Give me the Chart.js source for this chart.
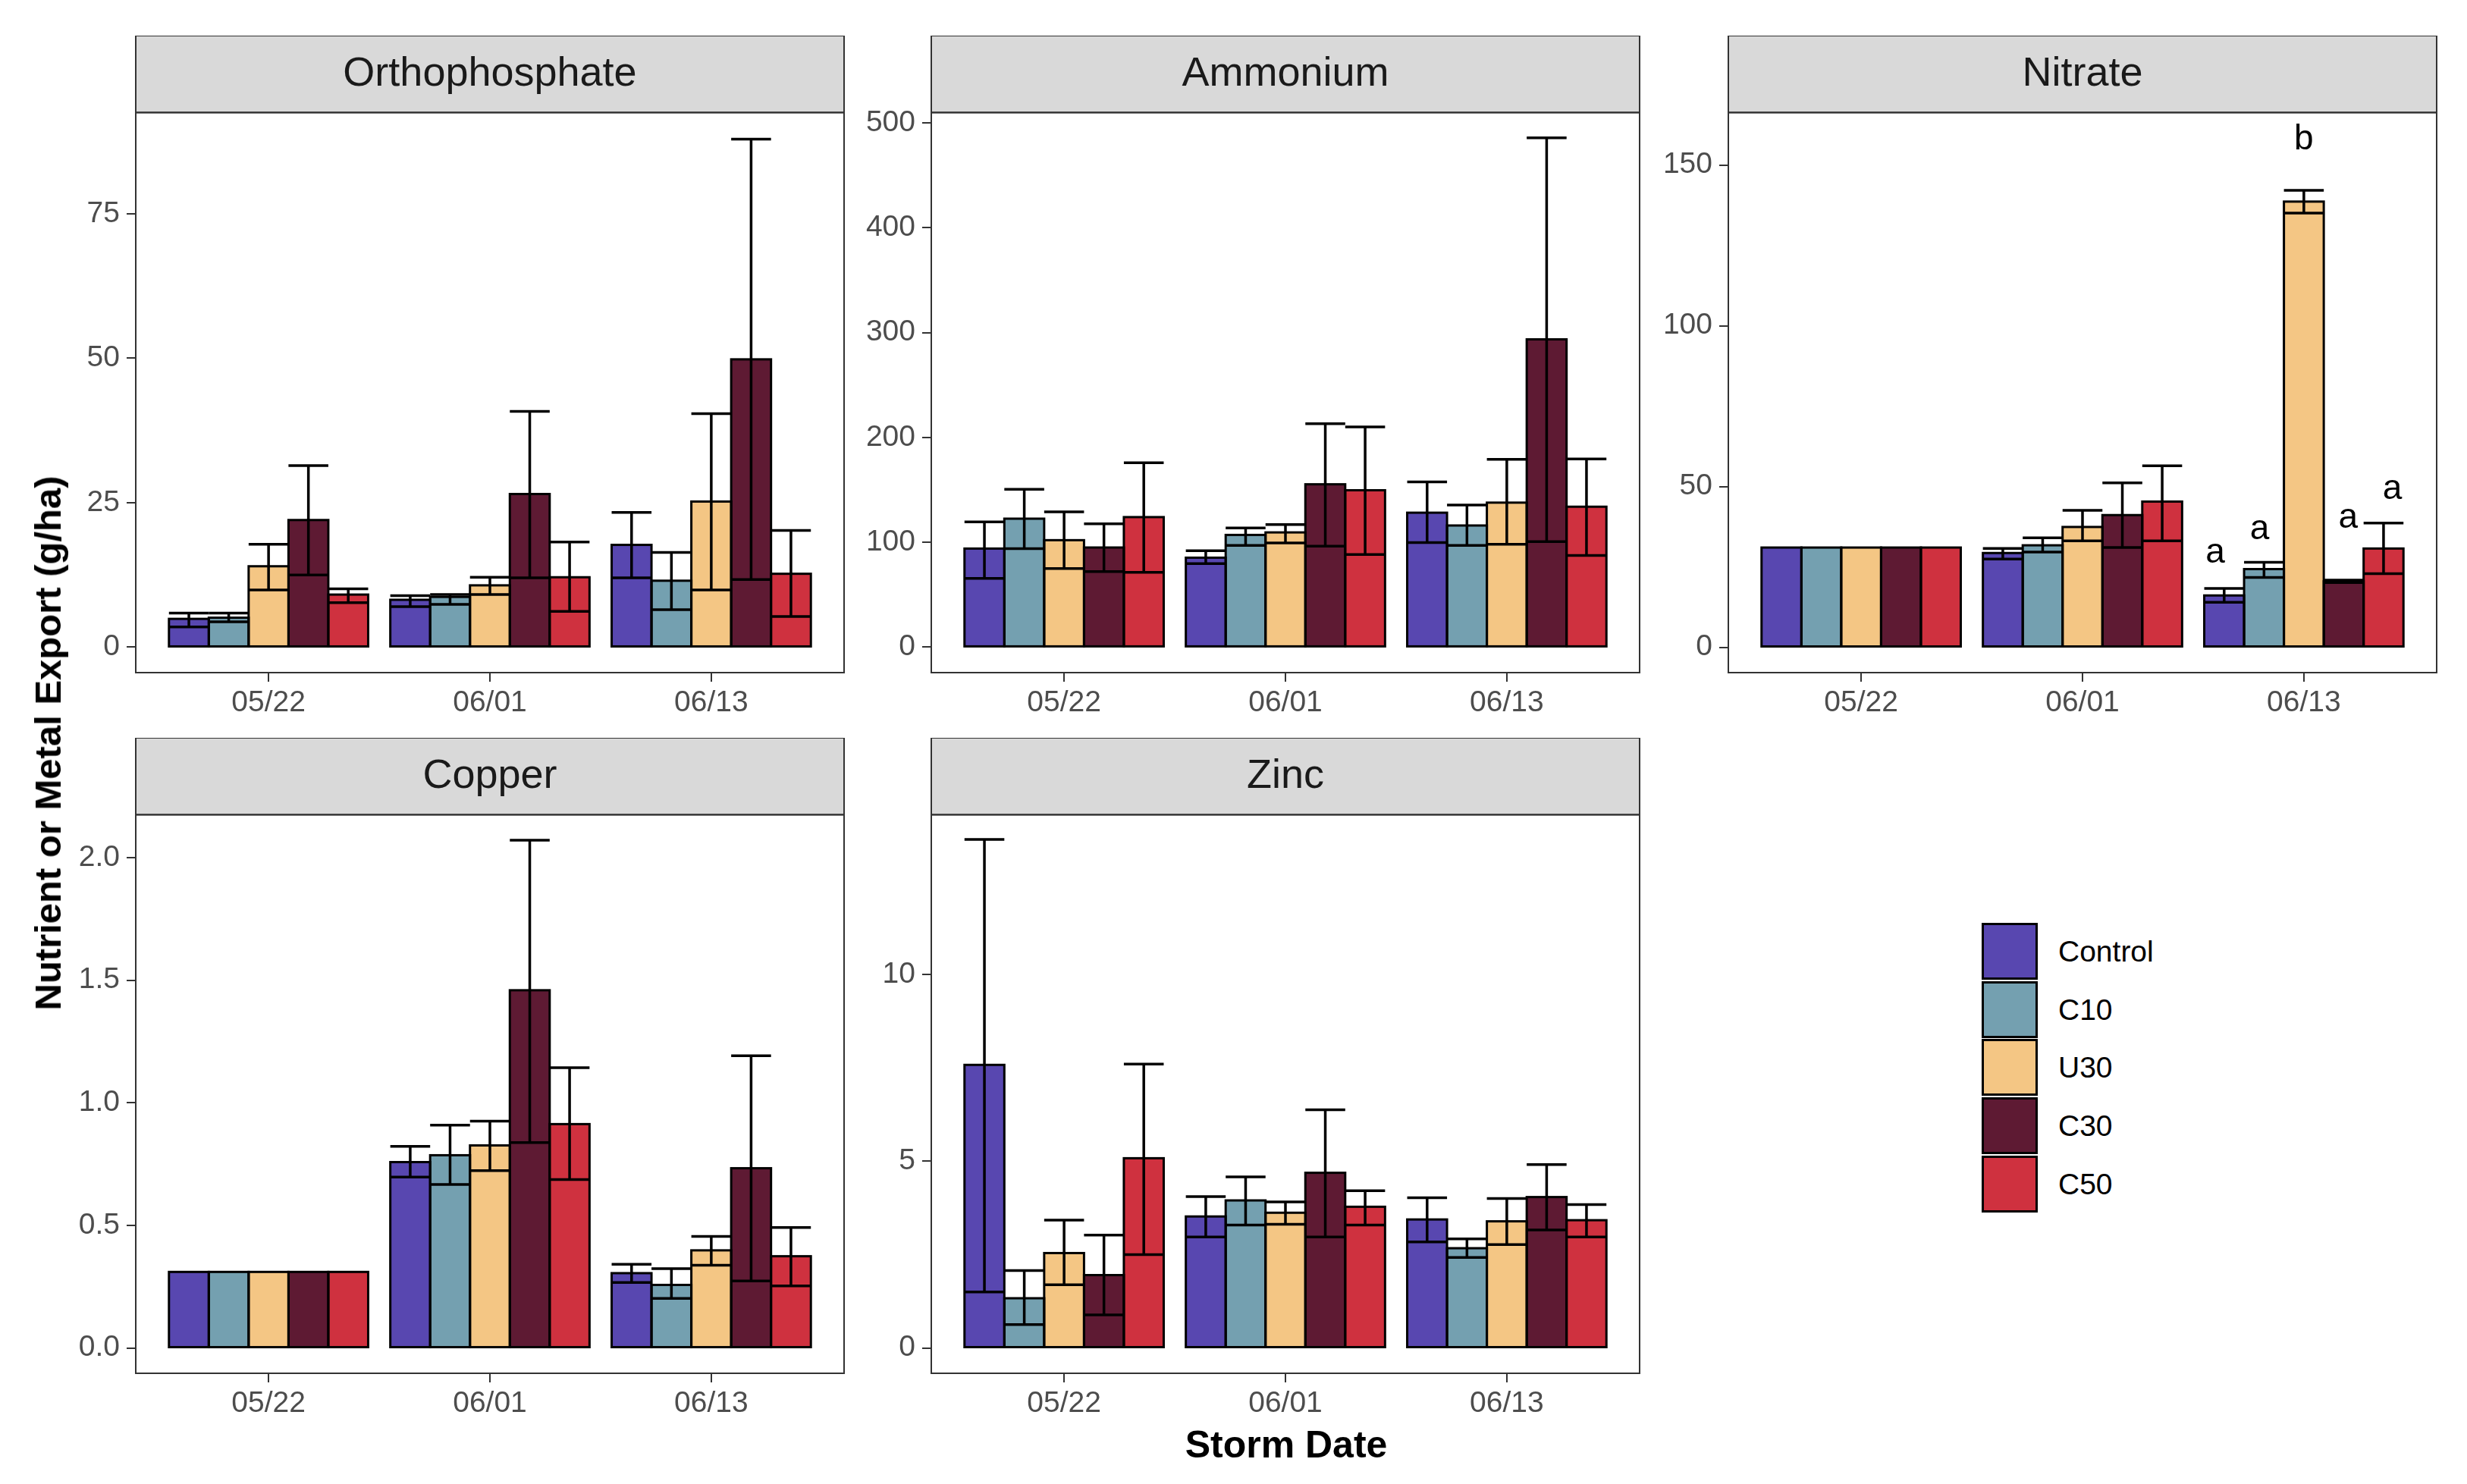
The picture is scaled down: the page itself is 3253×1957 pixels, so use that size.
<!DOCTYPE html>
<html><head><meta charset="utf-8">
<script src="https://cdn.jsdelivr.net/npm/chart.js@4.4.1/dist/chart.umd.min.js"></script>
<style>
body{margin:0;background:#fff;width:3253px;height:1957px;overflow:hidden;position:relative;font-family:"Liberation Sans",Arial,sans-serif;}
canvas{position:absolute;}
.lab{position:absolute;white-space:nowrap;color:#000;font-weight:bold;font-size:49px;transform:translate(-50%,-50%);z-index:5;}
.key{position:absolute;box-sizing:border-box;border:3px solid #000;width:74px;height:75px;}
.ktxt{position:absolute;font-size:39px;color:#000;transform:translateY(-50%);white-space:nowrap;}
</style></head><body>
<div class="lab" style="left:63px;top:980px;transform:translate(-50%,-50%) rotate(-90deg);">Nutrient or Metal Export (g/ha)</div>
<div class="lab" style="left:1696px;top:1905px;font-size:50px;">Storm Date</div>
<div id="legend"></div>
<script>
const categories = ['05/22', '06/01', '06/13'];
const treatments = ['Control', 'C10', 'U30', 'C30', 'C50'];
const colors = ['#5847B0', '#74A0B0', '#F4C684', '#5E1A33', '#CF313F'];

// values: rows = treatments (Control, C10, U30, C30, C50), columns = dates
const orthoMean = [[4.9, 8.2, 17.7], [5.1, 8.7, 11.5], [14.0, 10.7, 25.2], [22.0, 26.5, 49.8], [9.1, 12.1, 12.7]];
const orthoLow  = [[3.5, 7.0, 12.0], [4.4, 7.4, 6.5], [9.9, 9.1, 9.9], [12.5, 12.0, 11.7], [7.7, 6.2, 5.3]];
const orthoHigh = [[5.9, 8.9, 23.3], [5.9, 9.1, 16.4], [17.8, 12.1, 40.4], [31.4, 40.8, 87.9], [10.1, 18.2, 20.2]];
const orthoTicks = [0, 25, 50, 75];

const ammMean = [[94, 85.3, 128.2], [122.5, 107, 116], [102, 109.4, 137.8], [95, 155.3, 293.5], [124, 149.6, 133.9]];
const ammLow  = [[65.6, 79.6, 99.7], [94, 97, 97], [75, 99.3, 98], [72, 96.2, 100.6], [71.3, 88.4, 87.5]];
const ammHigh = [[119.4, 91.9, 157.5], [150.5, 113.7, 135.6], [129, 116.8, 179], [117.7, 213, 485.6], [175.9, 210, 179.4]];
const ammTicks = [0, 100, 200, 300, 400, 500];

const nitMean = [[31, 29.3, 16.1], [31, 31.7, 24.3], [31, 37.4, 138.6], [31, 41.1, 20.5], [31, 45.3, 30.7]];
const nitLow  = [[null, 27.4, 14.0], [null, 29.6, 21.7], [null, 33.1, 135.0], [null, 31.0, 20.1], [null, 33.1, 22.9]];
const nitHigh = [[null, 30.7, 18.3], [null, 34.0, 26.4], [null, 42.6, 142.1], [null, 51.1, 20.9], [null, 56.4, 38.6]];
const nitTicks = [0, 50, 100, 150];
const nitLetters = ['a', 'a', 'b', 'a', 'a'];          // for 06/13
const nitLetterY = [29.4, 36.6, 157.8, 40.2, 49.1];

const cuMean = [[0.31, 0.758, 0.305], [0.31, 0.786, 0.257], [0.31, 0.826, 0.398], [0.31, 1.459, 0.733], [0.31, 0.913, 0.374]];
const cuLow  = [[null, 0.697, 0.267], [null, 0.667, 0.202], [null, 0.723, 0.337], [null, 0.838, 0.273], [null, 0.687, 0.253]];
const cuHigh = [[null, 0.822, 0.341], [null, 0.909, 0.323], [null, 0.925, 0.455], [null, 2.071, 1.192], [null, 1.143, 0.491]];
const cuTicks = [0, 0.5, 1.0, 1.5, 2.0];

const znMean = [[7.58, 3.52, 3.44], [1.33, 3.95, 2.67], [2.54, 3.62, 3.39], [1.95, 4.69, 4.04], [5.08, 3.78, 3.42]];
const znLow  = [[1.50, 2.97, 2.84], [0.625, 3.29, 2.42], [1.69, 3.31, 2.77], [0.885, 2.97, 3.16], [2.5, 3.29, 2.97]];
const znHigh = [[13.62, 4.05, 4.02], [2.07, 4.58, 2.92], [3.42, 3.91, 4.0], [3.02, 6.38, 4.91], [7.6, 4.21, 3.84]];
const znTicks = [0, 5, 10];

Chart.defaults.font.family = "'Liberation Sans', Arial, sans-serif";

const STRIP_H = 101.4, YAXIS_W = 150, XAXIS_H = 80, PANEL_W = 934, RIGHT_PAD = 8;

const panels = [
  {title: 'Orthophosphate', mean: orthoMean, low: orthoLow, high: orthoHigh, ticks: orthoTicks, dec: 0, min: -4.4, max: 92.5, left: 179, top: 47, plotH: 739},
  {title: 'Ammonium', mean: ammMean, low: ammLow, high: ammHigh, ticks: ammTicks, dec: 0, min: -24.3, max: 509.8, left: 1228, top: 47, plotH: 739},
  {title: 'Nitrate', mean: nitMean, low: nitLow, high: nitHigh, ticks: nitTicks, dec: 0, min: -7.9, max: 166.3, left: 2279, top: 47, plotH: 739, letters: nitLetters, letterY: nitLetterY},
  {title: 'Copper', mean: cuMean, low: cuLow, high: cuHigh, ticks: cuTicks, dec: 1, min: -0.1035, max: 2.175, left: 179, top: 973, plotH: 737},
  {title: 'Zinc', mean: znMean, low: znLow, high: znHigh, ticks: znTicks, dec: 0, min: -0.68, max: 14.28, left: 1228, top: 973, plotH: 737}
];

const decoPlugin = {
  id: 'deco',
  beforeDraw(chart) {
    const {ctx, chartArea: a} = chart;
    ctx.save();
    ctx.fillStyle = '#D9D9D9';
    ctx.fillRect(a.left, a.top - STRIP_H, a.right - a.left, STRIP_H);
    ctx.strokeStyle = '#333333';
    ctx.lineWidth = 2;
    ctx.strokeRect(a.left, a.top - STRIP_H, a.right - a.left, STRIP_H);
    ctx.restore();
  },
  afterDatasetsDraw(chart) {
    const ctx = chart.ctx, ys = chart.scales.y, xs = chart.scales.x;
    ctx.save();
    ctx.strokeStyle = '#000';
    ctx.lineWidth = 3;
    chart.data.datasets.forEach((ds, i) => {
      chart.getDatasetMeta(i).data.forEach(el => {
        const p = el.getProps(['x', 'y', 'base', 'width'], true);
        ctx.strokeRect(p.x - p.width / 2, Math.min(p.y, p.base), p.width, Math.abs(p.base - p.y));
      });
    });
    ctx.lineWidth = 3.5;
    ctx.lineCap = 'butt';
    chart.data.datasets.forEach((ds, i) => {
      chart.getDatasetMeta(i).data.forEach((el, j) => {
        const lo = ds.errLow[j], hi = ds.errHigh[j];
        if (lo == null || hi == null) return;
        const p = el.getProps(['x', 'width'], true);
        const yl = ys.getPixelForValue(lo), yh = ys.getPixelForValue(hi);
        const x0 = p.x - p.width / 2, x1 = p.x + p.width / 2;
        ctx.beginPath();
        ctx.moveTo(x0, yl); ctx.lineTo(x1, yl);
        ctx.moveTo(p.x, yl); ctx.lineTo(p.x, yh);
        ctx.moveTo(x0, yh); ctx.lineTo(x1, yh);
        ctx.stroke();
      });
    });
    const pc = chart.options.plugins.deco || {};
    if (pc.letters) {
      ctx.fillStyle = '#000';
      ctx.font = "46px 'Liberation Sans', Arial, sans-serif";
      ctx.textAlign = 'center';
      ctx.textBaseline = 'middle';
      const cx = xs.getPixelForValue(3);
      chart.data.datasets.forEach((ds, i) => {
        const el = chart.getDatasetMeta(i).data[2];
        const lx = cx + (el.x - cx) / 0.9;
        ctx.fillText(pc.letters[i], lx, ys.getPixelForValue(pc.letterY[i]));
      });
    }
    ctx.restore();
  },
  afterDraw(chart) {
    const {ctx, chartArea: a} = chart;
    ctx.save();
    ctx.strokeStyle = '#333333';
    ctx.lineWidth = 2;
    ctx.strokeRect(a.left, a.top, a.right - a.left, a.bottom - a.top);
    ctx.restore();
  }
};

panels.forEach(pn => {
  const cv = document.createElement('canvas');
  const w = YAXIS_W + PANEL_W + RIGHT_PAD;
  const h = Math.round(STRIP_H + pn.plotH + XAXIS_H);
  cv.width = w; cv.height = h;
  cv.style.width = w + 'px'; cv.style.height = h + 'px';
  cv.style.left = (pn.left - YAXIS_W) + 'px';
  cv.style.top = pn.top + 'px';
  document.body.appendChild(cv);
  const datasets = treatments.map((t, i) => ({
    label: t,
    data: categories.map((c, j) => ({x: j + 1, y: pn.mean[i][j]})),
    errLow: pn.low[i],
    errHigh: pn.high[i],
    backgroundColor: colors[i],
    borderWidth: 0
  }));
  new Chart(cv, {
    type: 'bar',
    data: {datasets},
    plugins: [decoPlugin],
    options: {
      responsive: false,
      devicePixelRatio: 1,
      animation: false,
      layout: {padding: {left: 0, right: RIGHT_PAD, top: 0, bottom: 0}},
      datasets: {bar: {categoryPercentage: 0.9, barPercentage: 1.0}},
      plugins: {
        legend: {display: false},
        tooltip: {enabled: false},
        title: {
          display: true, text: pn.title, position: 'top', fullSize: false, align: 'center',
          color: '#1A1A1A', font: {size: 54, weight: 'normal', lineHeight: 1.15},
          padding: {top: 19.6, bottom: 19.7}
        },
        deco: {letters: pn.letters, letterY: pn.letterY}
      },
      scales: {
        x: {
          type: 'linear', min: 0.4, max: 3.6, offset: false,
          afterBuildTicks: ax => { ax.ticks = categories.map((c, j) => ({value: j + 1})); },
          afterFit: ax => { ax.height = XAXIS_H; },
          ticks: {
            callback: v => categories[Math.round(v) - 1],
            color: '#4D4D4D', font: {size: 39}, padding: 5, maxRotation: 0, autoSkip: false
          },
          grid: {display: true, drawOnChartArea: false, drawTicks: true, tickLength: 12, color: '#333333', lineWidth: 2, offset: false},
          border: {display: false}
        },
        y: {
          type: 'linear', min: pn.min, max: pn.max,
          afterBuildTicks: ax => { ax.ticks = pn.ticks.map(v => ({value: v})); },
          afterFit: ax => { ax.width = YAXIS_W; },
          ticks: {
            callback: v => Number(v).toFixed(pn.dec),
            color: '#4D4D4D', font: {size: 39}, padding: 9, autoSkip: false
          },
          grid: {display: true, drawOnChartArea: false, drawTicks: true, tickLength: 12, color: '#333333', lineWidth: 2},
          border: {display: false}
        }
      }
    }
  });
});

// legend
const leg = document.getElementById('legend');
treatments.forEach((t, i) => {
  const k = document.createElement('div');
  k.className = 'key';
  k.style.left = '2613px';
  k.style.top = (1217 + i * 76.7) + 'px';
  k.style.background = colors[i];
  leg.appendChild(k);
  const s = document.createElement('div');
  s.className = 'ktxt';
  s.style.left = '2714px';
  s.style.top = (1255 + i * 76.7) + 'px';
  s.textContent = t;
  leg.appendChild(s);
});
</script>
</body></html>
